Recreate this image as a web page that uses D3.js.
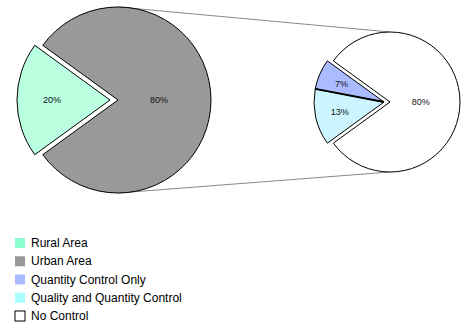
<!DOCTYPE html>
<meta charset="utf-8">
<style>
body { margin: 0; background: #fff; }
svg { display: block; font-family: "Liberation Sans", Arial, Helvetica, sans-serif; }
.lbl { font-size: 9px; fill: #111; text-anchor: middle; }
.legend text { font-size: 12px; fill: #000; }
.connector { stroke: #888; stroke-width: 1; fill: none; }
</style>
<body>
<script src="https://cdn.jsdelivr.net/npm/d3@7"></script>
<script>

// main pie: urban vs rural
var mainCats = ["Urban Area", "Rural Area"];
var mainValues = [80, 20];
var mainColors = ["#999999", "#bbffe1"];

// detail pie: breakdown of the controlled part
var detailCats = ["No Control", "Quality and Quantity Control", "Quantity Control Only"];
var detailValues = [80, 13, 7];
var detailColors = ["#ffffff", "#ccf5ff", "#aabbff"];

// legend
var legendCats = ["Rural Area", "Urban Area", "Quantity Control Only", "Quality and Quantity Control", "No Control"];
var legendColors = ["#8cffd0", "#999999", "#aabbff", "#aaffff", "#ffffff"];

var width = 462, height = 324;

var svg = d3.select("body").append("svg")
    .attr("width", width)
    .attr("height", height);

var start = -0.3 * Math.PI; // so the small slices sit on the left
var pie = d3.pie().sort(null).startAngle(start).endAngle(start + 2 * Math.PI);

var left = {cx: 118, cy: 100, r: 93, explode: 8},
    right = {cx: 390, cy: 102, r: 70, explode: 6};

// connector lines between the two pies
svg.append("line").attr("class", "connector")
    .attr("x1", left.cx).attr("y1", left.cy - left.r)
    .attr("x2", right.cx).attr("y2", right.cy - right.r);
svg.append("line").attr("class", "connector")
    .attr("x1", left.cx).attr("y1", left.cy + left.r)
    .attr("x2", right.cx).attr("y2", right.cy + right.r);

function drawPie(p, values, colors) {
  var arcs = pie(values);
  var arc = d3.arc().innerRadius(0).outerRadius(p.r);
  // the non-first slices are pulled out together to the left
  var g = svg.append("g").attr("transform", "translate(" + p.cx + "," + p.cy + ")");

  var slice = g.selectAll("g.slice")
      .data(arcs)
    .enter().append("g")
      .attr("class", "slice")
      .attr("transform", function(d, i) {
        return i == 0 ? null : "translate(" + (-p.explode) + ",0)";
      });

  slice.append("path")
      .attr("d", arc)
      .attr("fill", function(d, i) { return colors[i]; })
      .attr("stroke", "#000")
      .attr("stroke-width", 1)
      .attr("stroke-linejoin", "round");

  // label at the area centroid of the sector, big slice a bit further out
  slice.append("text")
      .attr("class", "lbl")
      .attr("dy", "0.35em")
      .attr("transform", function(d) {
        var half = (d.endAngle - d.startAngle) / 2,
            k = Math.max(0.44, 2 * Math.sin(half) / (3 * half)),
            a = (d.startAngle + d.endAngle) / 2;
        return "translate(" + (Math.sin(a) * p.r * k) + "," + (-Math.cos(a) * p.r * k) + ")";
      })
      .text(function(d) { return d.data + "%"; });

  return arcs;
}

drawPie(left, mainValues, mainColors);
var detailArcs = drawPie(right, detailValues, detailColors);

// heavier divider between the two controlled slices
var divA = detailArcs[1].endAngle;
svg.append("line")
    .attr("x1", right.cx - right.explode)
    .attr("y1", right.cy)
    .attr("x2", right.cx - right.explode + Math.sin(divA) * right.r)
    .attr("y2", right.cy - Math.cos(divA) * right.r)
    .attr("stroke", "#000")
    .attr("stroke-width", 2);

// legend
var y = d3.scalePoint().domain(legendCats).range([243, 316]);

var legend = svg.append("g").attr("class", "legend")
  .selectAll("g")
    .data(legendCats)
  .enter().append("g")
    .attr("transform", function(d) { return "translate(0," + y(d) + ")"; });

legend.append("rect")
    .attr("x", 15).attr("y", -5)
    .attr("width", 10).attr("height", 10)
    .attr("fill", function(d, i) { return legendColors[i]; })
    .attr("stroke", function(d, i) { return legendColors[i] == "#ffffff" ? "#000" : "none"; });

legend.append("text")
    .attr("x", 31)
    .attr("y", 4)
    .text(function(d) { return d; });

</script>
